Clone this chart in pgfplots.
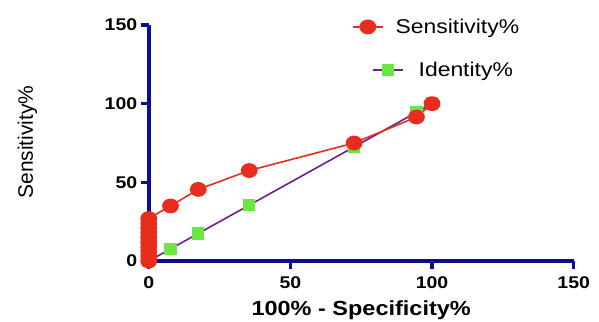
\documentclass[border=0pt]{standalone}
\usepackage{pgfplots}
\pgfplotsset{compat=1.18}
\usepackage{fontspec}
\setmainfont{Liberation Sans}[FakeStretch=1.15]
\newfontfamily\plain{Liberation Sans}
\definecolor{axnavy}{RGB}{12,12,150}
\definecolor{sred}{RGB}{232,45,30}
\definecolor{igreen}{RGB}{105,232,65}
\definecolor{ipurple}{RGB}{110,30,150}
\pgfplotsset{
  shiftedleg/.style={legend image code/.code={
    \draw[overlay, xshift=20bp, mark repeat=2, mark phase=2, ##1]
      plot coordinates {(0bp,0bp) (15bp,0bp) (30bp,0bp)};}},
  plainleg/.style={legend image code/.code={
    \draw[mark repeat=2, mark phase=2, ##1]
      plot coordinates {(0bp,0bp) (15bp,0bp) (30bp,0bp)};}},
}
\begin{document}
\begin{tikzpicture}
\useasboundingbox (0bp,0bp) rectangle (599bp,322bp);
\begin{axis}[
  at={(148.7bp,61bp)}, anchor=south west,
  scale only axis, width=425bp, height=236bp,
  xmin=0, xmax=150, ymin=0, ymax=150,
  xtick={0,50,100,150}, ytick={0,50,100,150},
  axis lines=left,
  axis line style={-, line width=4bp, color=axnavy},
  xtick pos=left, ytick pos=left,
  major tick style={line width=3.5bp, draw=axnavy},
  tick align=outside,
  major tick length=8bp,
  /pgf/number format/assume math mode=true,
  ticklabel style={font=\fontsize{17}{19}\selectfont\bfseries, text=black},
  xticklabel style={yshift=-4bp},
  xlabel={\bfseries 100\% - Specificity\%},
  xlabel style={font=\fontsize{20.5}{23}\selectfont, at={(axis description cs:0.5,-0.207)}, anchor=center},
  ylabel={Sensitivity\%},
  every axis y label/.style={font=\plain\fontsize{21}{24}\selectfont, at={(axis description cs:-0.285,0.504)}, anchor=center, rotate=90},
  clip=false,
  reverse legend,
  legend style={draw=none, fill=none, at={(0.478,1.035)}, anchor=north west,
    font=\fontsize{20}{22}\selectfont, inner sep=0pt, row sep=23bp,
    nodes={inner sep=2bp}},
  legend cell align=left,
]
\addplot[color=ipurple, line width=1.6bp, mark=square*,
  mark options={fill=igreen, draw=igreen, line width=0pt},
  mark size=5.7bp, shiftedleg]
  coordinates {(0,0) (7.7,7.7) (17.5,17.5) (35.5,35.5) (72.5,72.5) (94.5,94.5) (100,100)};
\addlegendentry{\hspace{33bp}Identity\%}
\addplot[color=sred, line width=1.6bp, mark=*,
  mark options={fill=sred, draw=sred, xscale=1.15},
  mark size=6.6bp, plainleg]
  coordinates {(0,0) (0,3) (0,6) (0,9) (0,12) (0,15) (0,18) (0,21) (0,24) (0,27)
    (7.7,35) (17.5,45.5) (35.5,57.5) (72.5,75) (94.5,91.5) (100,100)};
\addlegendentry{\hspace{10bp}Sensitivity\%}
\draw[axnavy, line width=3.5bp] (axis cs:50,0) -- ++(0bp,-7.5bp);
\draw[axnavy, line width=3.5bp] (axis cs:100,0) -- ++(0bp,-7.5bp);
\draw[axnavy, line width=3.5bp] (axis cs:150,0) -- ++(0bp,-7.5bp);
\draw[axnavy, line width=3.5bp] (axis cs:0,50) -- ++(-7.5bp,0bp);
\draw[axnavy, line width=3.5bp] (axis cs:0,100) -- ++(-7.5bp,0bp);
\draw[axnavy, line width=3.5bp] (axis cs:0,150) -- ++(-7.5bp,0bp);
\end{axis}
\end{tikzpicture}
\end{document}
